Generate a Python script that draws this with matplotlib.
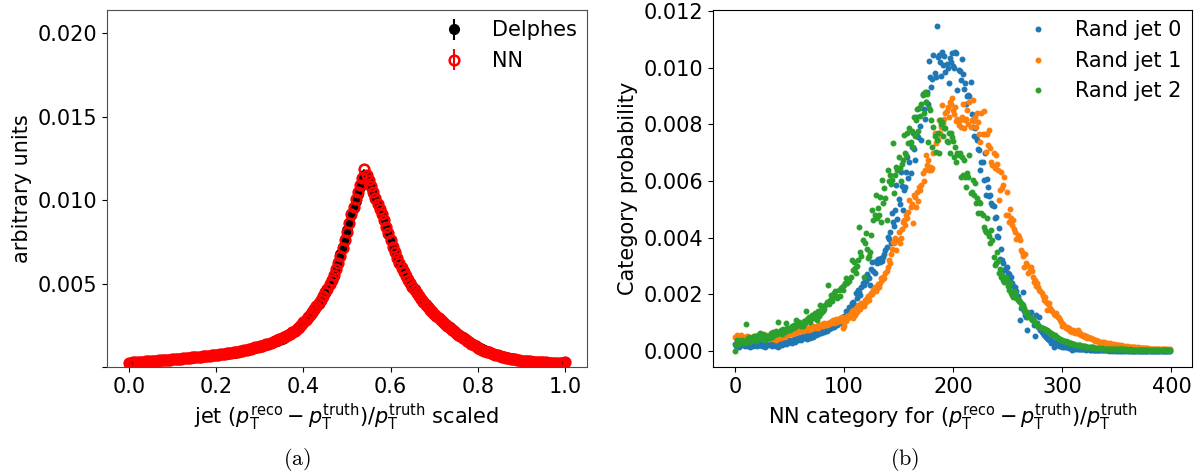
import numpy as np
import matplotlib
matplotlib.use('Agg')
import matplotlib.pyplot as plt

plt.rcParams['font.size'] = 15

# values below are in units of 1e-5
SCALE = 1e-5

########################################
# (a) jet response, Delphes vs NN, 201 bins on [0, 1]
resp_x = np.linspace(0.0, 1.0, 201)

delphes = [
    25, 27, 27, 28, 30, 30, 31, 33, 33, 34, 35, 36, 38, 38, 39, 41, 41, 42, 44, 44, 46,
    47, 48, 49, 51, 52, 53, 55, 56, 57, 59, 60, 61, 63, 64, 65, 67, 68, 70, 71, 72,
    74, 76, 77, 79, 81, 83, 85, 87, 89, 92, 94, 97, 100, 103, 106, 109, 112, 115, 118, 122,
    126, 130, 134, 138, 143, 148, 153, 158, 164, 170, 176, 183, 190, 198, 206, 215, 225, 236, 249, 265,
    280, 295, 310, 325, 342, 360, 380, 400, 420, 442, 470, 495, 520, 548, 590, 630, 675, 720, 770, 820,
    865, 910, 955, 995, 1040, 1080, 1120, 1150, 1145, 1115, 1080, 1045, 1010, 975, 945, 915, 880, 840, 800, 760,
    725, 690, 655, 625, 600, 575, 550, 525, 505, 485, 465, 445, 428, 410, 393, 377, 362, 348, 334, 320,
    308, 296, 284, 272, 260, 249, 238, 227, 216, 206, 196, 186, 177, 168, 159, 150, 142, 134, 126, 118,
    112, 106, 100, 95, 90, 85, 80, 76, 72, 68, 64, 61, 58, 55, 52, 49, 46, 44, 41, 39,
    38, 37, 36, 35, 34, 33, 32, 31, 30, 29, 28, 28, 27, 26, 26, 25, 25, 24, 24, 32,
]

nn = [
    26, 26, 28, 29, 29, 31, 32, 32, 34, 35, 35, 37, 37, 39, 40, 40, 42, 43, 43, 45, 46,
    48, 48, 50, 51, 53, 54, 55, 57, 58, 59, 61, 62, 63, 65, 66, 67, 69, 70, 72, 73,
    75, 76, 78, 80, 82, 84, 86, 88, 91, 93, 96, 98, 101, 104, 107, 110, 113, 117, 120, 124,
    128, 131, 136, 140, 145, 149, 155, 160, 166, 172, 178, 185, 193, 200, 209, 218, 228, 240, 252, 268,
    283, 298, 314, 330, 346, 364, 384, 404, 425, 447, 470, 497, 522, 550, 585, 622, 668, 712, 760, 812,
    865, 918, 960, 1005, 1050, 1090, 1135, 1185, 1150, 1120, 1085, 1050, 1015, 980, 950, 918, 882, 842, 802, 762,
    722, 688, 652, 622, 596, 570, 546, 522, 502, 482, 462, 442, 424, 406, 390, 374, 359, 344, 330, 316,
    304, 292, 281, 269, 258, 246, 235, 224, 213, 203, 193, 183, 174, 165, 156, 147, 139, 131, 123, 116,
    110, 104, 98, 93, 88, 83, 79, 75, 71, 67, 63, 60, 57, 54, 51, 48, 46, 43, 41, 39,
    37, 36, 35, 34, 33, 32, 31, 30, 29, 29, 28, 27, 27, 26, 25, 25, 24, 24, 23, 30,
]
resp_err = 3  # same units

########################################
# (b) category probabilities for three random jets, 400 categories
categories = np.arange(400)

jet0 = [
    25, 18, 22, 30, 15, 20, 27, 19, 24, 16,
    21, 26, 18, 23, 15, 19, 28, 17, 22, 20,
    16, 24, 19, 27, 21, 18, 25, 22, 14, 26,
    23, 19, 28, 24, 17, 26, 21, 30, 18, 25,
    15, 22, 28, 20, 31, 26, 35, 24, 38, 29,
    33, 39, 28, 36, 42, 31, 40, 45, 37, 43,
    48, 39, 52, 44, 47, 55, 42, 58, 50, 46,
    54, 61, 50, 63, 57, 66, 59, 62, 70, 64,
    68, 73, 65, 78, 71, 84, 76, 88, 80, 86,
    92, 85, 97, 104, 90, 109, 99, 113, 107, 118,
    122, 112, 139, 128, 133, 156, 145, 170, 174, 162,
    144, 204, 186, 216, 209, 198, 225, 240, 232, 252,
    245, 270, 262, 258, 233, 290, 312, 280, 274, 317,
    309, 325, 321, 315, 326, 318, 330, 340, 355, 368,
    403, 394, 421, 380, 485, 456, 440, 498, 585, 465,
    535, 520, 632, 583, 497, 567, 579, 630, 686, 610,
    665, 627, 721, 768, 713, 674, 825, 760, 756, 859,
    795, 744, 906, 855, 820, 880, 914, 870, 1024, 965,
    932, 961, 1046, 980, 965, 1146, 1038, 1045, 1020, 970,
    1055, 1010, 1040, 985, 1013, 1000, 945, 1035, 1020, 1050,
    1005, 1000, 1055, 1053, 922, 990, 988, 955, 1030, 976,
    925, 945, 873, 900, 902, 900, 950, 837, 790, 760,
    785, 755, 744, 713, 709, 638, 668, 665, 603, 700,
    550, 606, 579, 547, 550, 521, 515, 512, 470, 474,
    405, 403, 433, 323, 360, 320, 310, 287, 291, 295,
    274, 270, 246, 262, 238, 230, 204, 227, 210, 195,
    175, 110, 150, 165, 209, 140, 128, 118, 74, 132,
    130, 138, 115, 108, 92, 51, 127, 98, 85, 121,
    74, 68, 62, 55, 60, 48, 45, 40, 38, 42,
    27, 33, 15, 30, 27, 22, 24, 18, 20, 16,
    15, 17, 13, 15, 12, 14, 11, 10, 12, 4,
    9, 8, 9, 7, 8, 6, 7, 5, 6, 7,
    5, 6, 4, 5, 6, 3, 4, 5, 3, 4,
    3, 4, 3, 2, 4, 3, 3, 2, 3, 2,
    2, 3, 2, 1, 2, 3, 1, 2, 1, 2,
    1, 2, 1, 2, 1, 1, 2, 1, 1, 2,
    1, 1, 2, 1, 1, 1, 0, 1, 1, 1,
    1, 0, 1, 1, 0, 1, 1, 0, 1, 1,
    0, 1, 1, 0, 1, 0, 1, 1, 0, 1,
    1, 0, 1, 0, 1, 1, 0, 1, 0, 1,
]

jet1 = [
    50, 45, 56, 38, 52, 47, 56, 41, 49, 44,
    45, 53, 40, 48, 36, 39, 50, 44, 51, 46,
    42, 56, 48, 51, 45, 53, 47, 40, 55, 56,
    49, 43, 52, 45, 50, 41, 47, 55, 39, 48,
    44, 52, 46, 58, 51, 62, 48, 62, 55, 60,
    58, 66, 61, 68, 70, 64, 72, 67, 75, 74,
    69, 76, 71, 80, 74, 74, 82, 78, 73, 84,
    77, 80, 86, 79, 83, 88, 81, 92, 86, 90,
    94, 87, 97, 91, 92, 99, 95, 103, 98, 105,
    109, 97, 104, 112, 101, 108, 115, 106, 118, 80,
    86, 110, 104, 122, 115, 127, 133, 139, 115, 145,
    128, 151, 138, 162, 155, 149, 170, 162, 158, 180,
    174, 185, 192, 178, 196, 205, 200, 215, 227, 210,
    222, 235, 227, 241, 256, 250, 262, 256, 275, 282,
    297, 321, 310, 342, 360, 385, 380, 397, 356, 390,
    421, 380, 397, 430, 456, 462, 445, 478, 470, 490,
    532, 509, 520, 450, 550, 544, 509, 560, 530, 580,
    568, 585, 627, 600, 640, 691, 655, 672, 638, 650,
    640, 644, 700, 768, 735, 756, 745, 815, 770, 790,
    867, 803, 820, 838, 845, 860, 826, 879, 870, 891,
    850, 835, 862, 810, 820, 797, 815, 791, 826, 873,
    786, 815, 820, 850, 800, 879, 791, 814, 885, 810,
    826, 791, 840, 809, 767, 738, 838, 764, 845, 767,
    703, 767, 726, 780, 715, 668, 656, 700, 644, 691,
    660, 640, 533, 568, 632, 574, 585, 612, 480, 560,
    480, 456, 500, 470, 445, 462, 430, 421, 395, 410,
    403, 391, 355, 350, 333, 297, 340, 310, 303, 274,
    290, 297, 280, 260, 244, 250, 230, 238, 225, 215,
    212, 203, 195, 180, 190, 174, 145, 165, 168, 150,
    145, 139, 130, 125, 133, 122, 118, 115, 108, 100,
    86, 95, 88, 80, 84, 78, 82, 70, 74, 68,
    72, 66, 63, 69, 74, 58, 62, 55, 56, 52,
    54, 49, 51, 46, 48, 44, 45, 41, 40, 38,
    35, 37, 33, 34, 31, 32, 30, 29, 30, 27,
    27, 26, 25, 24, 26, 23, 22, 23, 21, 22,
    21, 19, 20, 18, 19, 17, 18, 16, 15, 16,
    15, 14, 15, 13, 14, 12, 13, 12, 11, 12,
    11, 10, 11, 10, 9, 10, 9, 9, 8, 9,
    8, 8, 7, 8, 7, 6, 7, 6, 7, 6,
    6, 5, 6, 5, 6, 5, 4, 5, 4, 5,
]

jet2 = [
    0, 21, 39, 30, 25, 33, 33, 39, 28, 36,
    94, 42, 30, 48, 33, 40, 45, 38, 52, 35,
    46, 55, 40, 62, 50, 44, 58, 48, 39, 52,
    50, 45, 57, 62, 48, 66, 55, 60, 70, 58,
    103, 64, 72, 60, 78, 74, 68, 97, 80, 72,
    82, 74, 88, 79, 92, 84, 109, 96, 90, 100,
    95, 88, 86, 104, 98, 139, 112, 108, 118, 102,
    121, 128, 115, 133, 125, 109, 140, 122, 162, 135,
    150, 139, 146, 160, 172, 233, 166, 180, 198, 175,
    190, 204, 210, 195, 186, 215, 192, 221, 227, 215,
    233, 240, 256, 239, 250, 245, 262, 321, 286, 315,
    292, 274, 300, 320, 438, 350, 333, 391, 262, 380,
    415, 360, 327, 333, 350, 410, 497, 462, 478, 550,
    468, 503, 480, 544, 456, 604, 521, 575, 540, 462,
    639, 600, 621, 590, 604, 732, 556, 620, 650, 639,
    686, 645, 600, 660, 674, 762, 700, 690, 768, 732,
    786, 738, 775, 720, 825, 760, 815, 855, 775, 858,
    830, 870, 904, 840, 913, 880, 905, 738, 858, 850,
    815, 721, 790, 760, 703, 745, 770, 697, 815, 800,
    809, 760, 785, 786, 740, 738, 768, 697, 770, 755,
    740, 686, 720, 668, 700, 690, 697, 615, 685, 621,
    674, 615, 580, 626, 615, 691, 556, 562, 603, 550,
    591, 521, 538, 485, 526, 521, 485, 480, 438, 426,
    421, 470, 415, 405, 380, 426, 391, 332, 303, 309,
    350, 318, 274, 290, 262, 268, 250, 244, 262, 244,
    230, 215, 238, 205, 197, 191, 210, 200, 186, 178,
    180, 172, 168, 156, 160, 150, 140, 133, 138, 121,
    121, 115, 109, 112, 104, 98, 95, 92, 88, 86,
    84, 82, 79, 76, 78, 74, 72, 70, 68, 64,
    62, 58, 56, 54, 50, 47, 45, 42, 40, 39,
    38, 36, 35, 33, 32, 30, 27, 28, 26, 25,
    24, 23, 22, 21, 21, 20, 19, 18, 18, 17,
    16, 16, 15, 14, 14, 13, 13, 12, 12, 11,
    11, 10, 10, 10, 9, 9, 9, 8, 8, 8,
    8, 7, 7, 7, 7, 6, 6, 6, 6, 6,
    6, 6, 5, 5, 5, 5, 5, 5, 5, 4,
    4, 4, 5, 4, 4, 4, 4, 4, 4, 3,
    4, 3, 4, 3, 3, 4, 3, 3, 3, 3,
    3, 3, 3, 3, 2, 3, 3, 3, 2, 3,
    3, 2, 3, 2, 3, 3, 2, 3, 2, 3,
]

jets = [(jet0, 'Rand jet 0'), (jet1, 'Rand jet 1'), (jet2, 'Rand jet 2')]

ptlabel = r'$(p_\mathrm{T}^\mathrm{reco} - p_\mathrm{T}^\mathrm{truth})/p_\mathrm{T}^\mathrm{truth}$'

#########################################

fig = plt.figure(figsize=(11.94, 4.74), dpi=100)
ax1 = fig.add_axes([0.0896, 0.2257, 0.4020, 0.7532])
ax2 = fig.add_axes([0.5972, 0.2257, 0.4012, 0.7532])

# (a)
ax1.errorbar(resp_x, np.array(delphes) * SCALE, yerr=resp_err * SCALE, fmt='o',
             color='black', ms=7, label='Delphes')
ax1.errorbar(resp_x, np.array(nn) * SCALE, yerr=resp_err * SCALE, fmt='o',
             color='red', mfc='none', ms=7, mew=1.8, label='NN')
ax1.set_ylim(0, 0.0214)
ax1.set_yticks([0, 0.005, 0.010, 0.015, 0.020])
ax1.set_yticklabels(['', '0.005', '0.010', '0.015', '0.020'])
ax1.set_xticks([0.0, 0.2, 0.4, 0.6, 0.8, 1.0])
ax1.set_xlabel('jet ' + ptlabel + ' scaled')
ax1.set_ylabel('arbitrary units')
ax1.legend(loc='upper right', frameon=False, borderaxespad=0.1)
for sp in ax1.spines.values():
    sp.set_color('0.3')

# (b)
for vals, name in jets:
    ax2.plot(categories, np.array(vals) * SCALE, '.', ms=6.5, label=name)
ax2.set_yticks([0, 0.002, 0.004, 0.006, 0.008, 0.010, 0.012])
ax2.set_xticks([0, 100, 200, 300, 400])
ax2.set_xlabel('NN category for ' + ptlabel)
ax2.set_ylabel('Category probability')
ax2.legend(loc='upper right', frameon=False, borderaxespad=0.1)

# sub-figure captions
fig.text(0.249, 0.030, r'$\mathrm{(a)}$', ha='center', va='center', fontsize=16, math_fontfamily='cm')
fig.text(0.758, 0.030, r'$\mathrm{(b)}$', ha='center', va='center', fontsize=16, math_fontfamily='cm')

fig.savefig('out.png', dpi=100)
plt.close(fig)
